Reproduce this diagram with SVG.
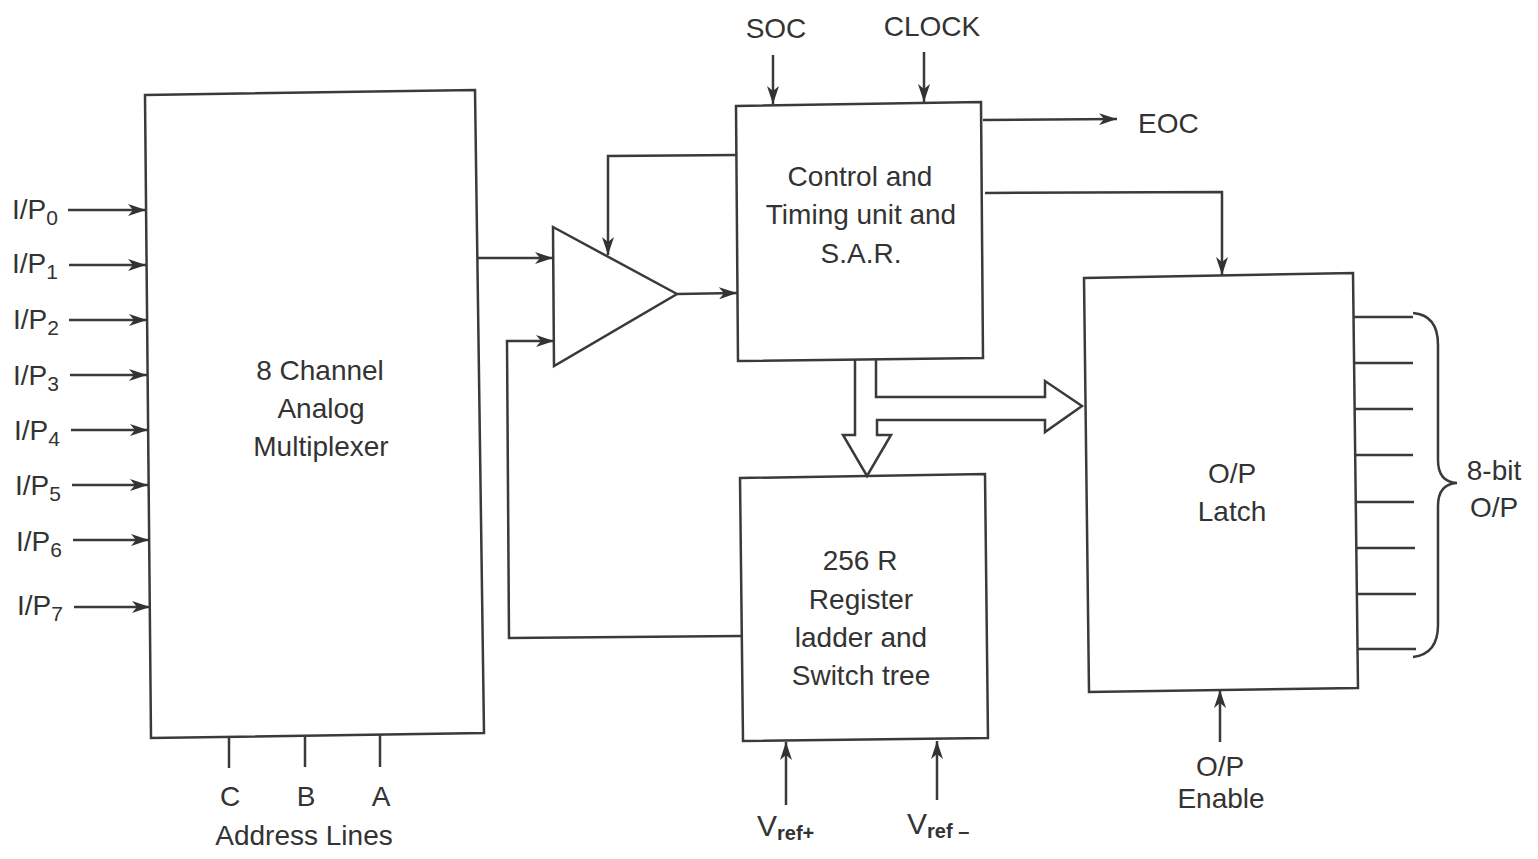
<svg xmlns="http://www.w3.org/2000/svg" width="1538" height="859" viewBox="0 0 1538 859">
<style>
.box{fill:none;stroke:#3a3a3a;stroke-width:2.5;stroke-linejoin:miter}
.ln{fill:none;stroke:#3a3a3a;stroke-width:2.5}
.ar{fill:none;stroke:#3a3a3a;stroke-width:2.5;marker-end:url(#ah)}
text{font-family:"Liberation Sans",Arial,sans-serif;font-size:28px;fill:#333}
.c{text-anchor:middle}
.sub{font-size:21px}
</style>
<defs>
<marker id="ah" markerUnits="userSpaceOnUse" markerWidth="20" markerHeight="12" refX="18" refY="6" orient="auto">
<path d="M0,0 L18,6 L0,12 L5,6 Z" fill="#333"/>
</marker>
</defs>
<rect width="1538" height="859" fill="#ffffff"/>

<g id="mux">
<polygon class="box" points="145,95 475,90 484,733 151,738"/>
<text class="c" x="320" y="380">8 Channel</text>
<text class="c" x="321" y="418">Analog</text>
<text class="c" x="321" y="456">Multiplexer</text>
</g>

<g id="comparator">
<polygon class="box" points="553,227 677,294 554,366"/>
</g>

<g id="control">
<polygon class="box" points="736,106 981,102 983,358 738,361"/>
<text class="c" x="860" y="186">Control and</text>
<text class="c" x="861" y="224">Timing unit and</text>
<text class="c" x="861" y="263">S.A.R.</text>
</g>

<g id="ladder">
<polygon class="box" points="740,478 985,474 988,738 743,741"/>
<text class="c" x="860" y="570">256 R</text>
<text class="c" x="861" y="609">Register</text>
<text class="c" x="861" y="647">ladder and</text>
<text class="c" x="861" y="685">Switch tree</text>
</g>

<g id="latch">
<polygon class="box" points="1084,278 1353,273 1358,688 1089,692"/>
<text class="c" x="1232" y="483">O/P</text>
<text class="c" x="1232" y="521">Latch</text>
</g>

<g id="inputs">
<text x="12" y="219">I/P<tspan class="sub" dy="6">0</tspan></text>
<text x="12" y="273">I/P<tspan class="sub" dy="6">1</tspan></text>
<text x="13" y="329">I/P<tspan class="sub" dy="6">2</tspan></text>
<text x="13" y="385">I/P<tspan class="sub" dy="6">3</tspan></text>
<text x="14" y="440">I/P<tspan class="sub" dy="6">4</tspan></text>
<text x="15" y="495">I/P<tspan class="sub" dy="6">5</tspan></text>
<text x="16" y="551">I/P<tspan class="sub" dy="6">6</tspan></text>
<text x="17" y="615">I/P<tspan class="sub" dy="6">7</tspan></text>
</g>

<g id="labels">
<text class="c" x="776" y="38">SOC</text>
<text class="c" x="932" y="36">CLOCK</text>
<text x="1138" y="133">EOC</text>
<text class="c" x="230" y="806">C</text>
<text class="c" x="306" y="806">B</text>
<text class="c" x="381" y="806">A</text>
<text class="c" x="304" y="845">Address Lines</text>
<text x="757" y="836" style="font-size:30px">V<tspan class="sub" dy="4" style="font-size:20px;font-weight:bold">ref+</tspan></text>
<text x="907" y="834" style="font-size:30px">V<tspan class="sub" dy="4" style="font-size:20px;font-weight:bold">ref –</tspan></text>
<text class="c" x="1220" y="776">O/P</text>
<text class="c" x="1221" y="808">Enable</text>
<text class="c" x="1494" y="480">8-bit</text>
<text class="c" x="1494" y="517">O/P</text>
</g>

<g id="connectors">
<!-- inputs -->
<line class="ar" x1="68" y1="210" x2="146" y2="210"/>
<line class="ar" x1="69" y1="265" x2="146" y2="265"/>
<line class="ar" x1="69" y1="320" x2="147" y2="320"/>
<line class="ar" x1="70" y1="375" x2="147" y2="375"/>
<line class="ar" x1="71" y1="430" x2="148" y2="430"/>
<line class="ar" x1="72" y1="485" x2="148" y2="485"/>
<line class="ar" x1="73" y1="540" x2="149" y2="540"/>
<line class="ar" x1="74" y1="607" x2="150" y2="607"/>
<!-- address ticks -->
<line class="ln" x1="229" y1="736" x2="229" y2="768"/>
<line class="ln" x1="305" y1="735" x2="305" y2="767"/>
<line class="ln" x1="380" y1="735" x2="380" y2="767"/>
<!-- mux to comparator -->
<line class="ar" x1="478" y1="258" x2="553" y2="258"/>
<!-- ladder feedback to comparator -->
<polyline class="ar" points="741,636 509,638 507,341 554,341"/>
<!-- comparator to control -->
<line class="ar" x1="677" y1="294" x2="737" y2="293"/>
<!-- control to comparator -->
<polyline class="ar" points="737,155 608,156 608,255"/>
<!-- SOC / CLOCK -->
<line class="ar" x1="773" y1="55" x2="773" y2="104"/>
<line class="ar" x1="924" y1="52" x2="924" y2="102"/>
<!-- EOC -->
<line class="ar" x1="983" y1="120" x2="1117" y2="119"/>
<!-- control to latch -->
<polyline class="ar" points="985,193 1222,192 1222,275"/>
<!-- hollow bus arrows -->
<path class="ln" d="M855,360 V435 H843 L867,476 L891,435 H877 V420 H1045 V432 L1082,406 L1045,381 V397 H876 V359"/>
<!-- Vref -->
<line class="ar" x1="786" y1="805" x2="786" y2="742"/>
<line class="ar" x1="937" y1="800" x2="937" y2="741"/>
<!-- O/P enable -->
<line class="ar" x1="1220" y1="742" x2="1220" y2="690"/>
<!-- outputs -->
<line class="ln" x1="1354" y1="317" x2="1413" y2="317"/>
<line class="ln" x1="1354" y1="363" x2="1413" y2="363"/>
<line class="ln" x1="1355" y1="409" x2="1413" y2="409"/>
<line class="ln" x1="1355" y1="455" x2="1413" y2="455"/>
<line class="ln" x1="1356" y1="502" x2="1414" y2="502"/>
<line class="ln" x1="1356" y1="548" x2="1415" y2="548"/>
<line class="ln" x1="1357" y1="594" x2="1416" y2="594"/>
<line class="ln" x1="1357" y1="649" x2="1416" y2="649"/>
<!-- brace -->
<path class="ln" d="M1413,313 Q1438,315 1438,345 V460 Q1438,482 1457,483 Q1438,484 1438,506 V625 Q1438,654 1413,657"/>
</g>
</svg>
